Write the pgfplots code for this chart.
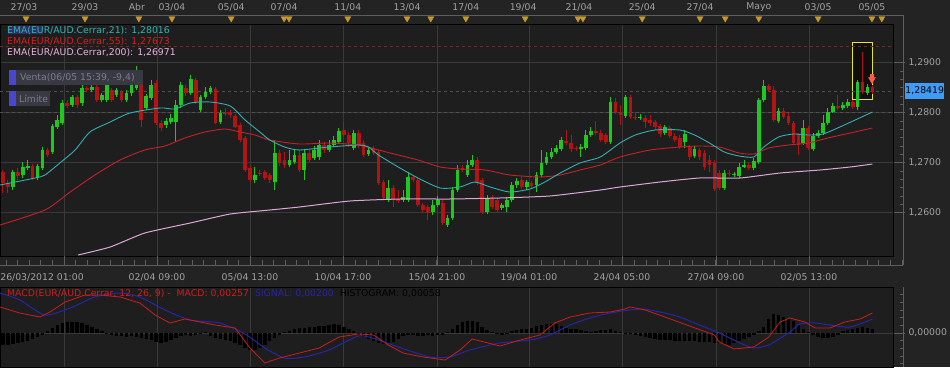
\documentclass[border=0pt]{standalone}
\usepackage{pgfplots}
\pgfplotsset{compat=1.18}
\usepackage{pgfplotstable}
\usepackage{fontspec}
\setmainfont{DejaVu Sans}
\definecolor{pagebg}{HTML}{232323}
\definecolor{plotbg}{HTML}{1E1E1E}
\definecolor{gridc}{HTML}{393939}
\definecolor{rulerc}{HTML}{5E5E5E}
\definecolor{labelc}{HTML}{A2A2A2}
\definecolor{cgreen}{HTML}{1FC71F}
\definecolor{cred}{HTML}{B01414}
\definecolor{ema21c}{HTML}{35AEB2}
\definecolor{ema55c}{HTML}{C42228}
\definecolor{ema200c}{HTML}{DDA7D8}
\definecolor{ema21t}{HTML}{2FB5B5}
\definecolor{ema55t}{HTML}{D81E1E}
\definecolor{ema200t}{HTML}{E8B4E2}
\definecolor{macdred}{HTML}{CC1E1E}
\definecolor{sigblue}{HTML}{2626A8}
\definecolor{markc}{HTML}{C79A2C}
\definecolor{hlblue}{HTML}{3D9CF5}
\definecolor{yellowc}{HTML}{E6E040}
\definecolor{boxbg}{HTML}{0E0E0E}
\definecolor{reddash}{HTML}{6A2E2E}
\definecolor{graydash}{HTML}{505050}
\definecolor{arrowred}{HTML}{FF5A48}
\definecolor{ventabg}{HTML}{393943}
\definecolor{ventablue}{HTML}{4848CC}
\definecolor{ventatext}{HTML}{7C7C8E}
\definecolor{fadeblue}{HTML}{3A3A90}
\newcommand{\f}{\fontsize{9.3}{11}\selectfont}

\pgfplotstableread{
j o h l c
0 1.2681 1.2685 1.2639 1.2659
1 1.2659 1.2665 1.2639 1.2651
2 1.2651 1.2685 1.2645 1.2681
3 1.2681 1.2689 1.2665 1.2673
4 1.2675 1.2701 1.2669 1.2691
5 1.2689 1.2705 1.2685 1.2693
6 1.2693 1.2697 1.2665 1.2669
7 1.2669 1.2697 1.2665 1.2693
8 1.2689 1.2731 1.2685 1.2725
9 1.2725 1.2729 1.2711 1.2715
10 1.2721 1.2777 1.2717 1.2773
11 1.2771 1.2795 1.2767 1.2785
12 1.2779 1.2825 1.2775 1.2819
13 1.2819 1.2825 1.2809 1.2813
14 1.2815 1.2835 1.2811 1.2831
15 1.2831 1.2835 1.2809 1.2815
16 1.2819 1.2855 1.2813 1.2849
17 1.2849 1.2853 1.2841 1.2845
18 1.2845 1.2857 1.2841 1.2851
19 1.2851 1.2855 1.2821 1.2825
20 1.2825 1.2839 1.2821 1.2835
21 1.2825 1.2861 1.2821 1.2855
22 1.2845 1.2849 1.2821 1.2825
23 1.2835 1.2849 1.2831 1.2845
24 1.2841 1.2845 1.2821 1.2825
25 1.2825 1.2845 1.2821 1.2839
26 1.2839 1.2861 1.2833 1.2855
27 1.2849 1.2893 1.2845 1.2861
28 1.2855 1.2861 1.2771 1.2785
29 1.2809 1.2837 1.2805 1.2833
30 1.2829 1.2865 1.2825 1.2855
31 1.2859 1.2865 1.2775 1.2779
32 1.2779 1.2785 1.2763 1.2769
33 1.2775 1.2789 1.2769 1.2783
34 1.2781 1.2797 1.2777 1.2789
35 1.2781 1.2825 1.2741 1.2815
36 1.2815 1.2861 1.2809 1.2855
37 1.2849 1.2855 1.2833 1.2839
38 1.2839 1.2875 1.2835 1.2867
39 1.2865 1.2869 1.2817 1.2821
40 1.2805 1.2835 1.2801 1.2831
41 1.2831 1.2851 1.2827 1.2841
42 1.2841 1.2853 1.2837 1.2849
43 1.2847 1.2851 1.2777 1.2779
44 1.2781 1.2805 1.2777 1.2799
45 1.2799 1.2809 1.2793 1.2797
46 1.2801 1.2805 1.2789 1.2795
47 1.2793 1.2797 1.2769 1.2771
48 1.2775 1.2779 1.2741 1.2745
49 1.2749 1.2753 1.2681 1.2685
50 1.2689 1.2693 1.2661 1.2665
51 1.2665 1.2691 1.2659 1.2675
52 1.2679 1.2685 1.2673 1.2677
53 1.2681 1.2685 1.2665 1.2669
54 1.2675 1.2679 1.2659 1.2665
55 1.2661 1.2745 1.2645 1.2719
56 1.2719 1.2725 1.2693 1.2699
57 1.2705 1.2721 1.2689 1.2695
58 1.2695 1.2725 1.2691 1.2705
59 1.2701 1.2725 1.2697 1.2715
60 1.2715 1.2725 1.2681 1.2685
61 1.2685 1.2725 1.2665 1.2719
62 1.2719 1.2725 1.2701 1.2705
63 1.2709 1.2733 1.2705 1.2725
64 1.2711 1.2745 1.2705 1.2735
65 1.2735 1.2741 1.2719 1.2725
66 1.2725 1.2745 1.2721 1.2735
67 1.2735 1.2753 1.2731 1.2745
68 1.2741 1.2769 1.2737 1.2763
69 1.2765 1.2781 1.2751 1.2755
70 1.2755 1.2761 1.2731 1.2739
71 1.2729 1.2765 1.2725 1.2759
72 1.2759 1.2765 1.2729 1.2735
73 1.2739 1.2745 1.2711 1.2715
74 1.2717 1.2729 1.2713 1.2725
75 1.2729 1.2733 1.2715 1.2719
76 1.2721 1.2725 1.2655 1.2659
77 1.2661 1.2665 1.2625 1.2629
78 1.2625 1.2665 1.2621 1.2649
79 1.2649 1.2655 1.2611 1.2625
80 1.2627 1.2645 1.2619 1.2623
81 1.2625 1.2645 1.2621 1.2631
82 1.2625 1.2681 1.2621 1.2671
83 1.2671 1.2675 1.2661 1.2665
84 1.2665 1.2669 1.2611 1.2615
85 1.2615 1.2619 1.2601 1.2605
86 1.2611 1.2615 1.2585 1.2599
87 1.2601 1.2625 1.2595 1.2615
88 1.2615 1.2633 1.2611 1.2625
89 1.2619 1.2625 1.2575 1.2579
90 1.2575 1.2595 1.2571 1.2589
91 1.2589 1.2651 1.2585 1.2645
92 1.2645 1.2695 1.2641 1.2685
93 1.2689 1.2695 1.2681 1.2685
94 1.2675 1.2705 1.2671 1.2695
95 1.2695 1.2715 1.2691 1.2705
96 1.2705 1.2711 1.2655 1.2659
97 1.2665 1.2669 1.2597 1.2601
98 1.2601 1.2635 1.2597 1.2629
99 1.2629 1.2635 1.2607 1.2611
100 1.2625 1.2629 1.2601 1.2605
101 1.2609 1.2619 1.2605 1.2615
102 1.2611 1.2631 1.2601 1.2625
103 1.2625 1.2661 1.2621 1.2655
104 1.2655 1.2669 1.2649 1.2663
105 1.2665 1.2671 1.2647 1.2651
106 1.2651 1.2665 1.2645 1.2661
107 1.2659 1.2663 1.2649 1.2653
108 1.2655 1.2681 1.2641 1.2675
109 1.2675 1.2725 1.2671 1.2699
110 1.2699 1.2721 1.2695 1.2711
111 1.2711 1.2729 1.2707 1.2721
112 1.2721 1.2735 1.2717 1.2729
113 1.2727 1.2751 1.2723 1.2745
114 1.2743 1.2765 1.2735 1.2739
115 1.2739 1.2755 1.2721 1.2727
116 1.2729 1.2733 1.2723 1.2727
117 1.2727 1.2737 1.2711 1.2731
118 1.2729 1.2765 1.2725 1.2755
119 1.2755 1.2771 1.2751 1.2763
120 1.2763 1.2783 1.2755 1.2759
121 1.2759 1.2765 1.2741 1.2745
122 1.2755 1.2759 1.2737 1.2741
123 1.2741 1.2831 1.2737 1.2821
124 1.2821 1.2829 1.2797 1.2801
125 1.2801 1.2815 1.2775 1.2795
126 1.2793 1.2835 1.2789 1.2831
127 1.2831 1.2835 1.2787 1.2791
128 1.2791 1.2801 1.2785 1.2789
129 1.2789 1.2797 1.2785 1.2791
130 1.2789 1.2795 1.2769 1.2781
131 1.2785 1.2795 1.2773 1.2779
132 1.2781 1.2785 1.2765 1.2771
133 1.2773 1.2777 1.2751 1.2757
134 1.2759 1.2775 1.2755 1.2771
135 1.2769 1.2773 1.2749 1.2753
136 1.2753 1.2759 1.2741 1.2745
137 1.2749 1.2755 1.2727 1.2731
138 1.2741 1.2765 1.2729 1.2757
139 1.2731 1.2735 1.2705 1.2711
140 1.2713 1.2733 1.2709 1.2727
141 1.2725 1.2729 1.2705 1.2711
142 1.2719 1.2725 1.2685 1.2691
143 1.2705 1.2715 1.2681 1.2695
144 1.2699 1.2705 1.2643 1.2647
145 1.2679 1.2685 1.2645 1.2649
146 1.2649 1.2685 1.2645 1.2679
147 1.2679 1.2685 1.2673 1.2677
148 1.2675 1.2681 1.2671 1.2677
149 1.2673 1.2699 1.2669 1.2691
150 1.2691 1.2705 1.2689 1.2695
151 1.2695 1.2699 1.2685 1.2689
152 1.2689 1.2709 1.2685 1.2703
153 1.2701 1.2829 1.2697 1.2825
154 1.2825 1.2865 1.2821 1.2853
155 1.2853 1.2857 1.2841 1.2845
156 1.2845 1.2853 1.2781 1.2785
157 1.2783 1.2809 1.2779 1.2803
158 1.2803 1.2809 1.2787 1.2791
159 1.2793 1.2799 1.2775 1.2779
160 1.2779 1.2783 1.2735 1.2739
161 1.2755 1.2759 1.2715 1.2735
162 1.2739 1.2785 1.2735 1.2769
163 1.2769 1.2773 1.2725 1.2729
164 1.2727 1.2759 1.2723 1.2753
165 1.2753 1.2765 1.2749 1.2759
166 1.2759 1.2795 1.2755 1.2779
167 1.2779 1.2809 1.2775 1.2801
168 1.2801 1.2819 1.2799 1.2813
169 1.2813 1.2835 1.2805 1.2809
170 1.2809 1.2821 1.2805 1.2815
171 1.2813 1.2827 1.2809 1.2821
172 1.2821 1.2825 1.2807 1.2811
173 1.2811 1.2865 1.2805 1.2861
174 1.2861 1.2921 1.2837 1.2841
175 1.2839 1.2857 1.2835 1.2851
176 1.2851 1.2855 1.2837 1.2841
}\candles

\begin{document}
\begin{tikzpicture}
\path[use as bounding box] (0pt,0pt) rectangle (950pt,367pt);
\fill[pagebg] (0pt,0pt) rectangle (950pt,367pt);

% ---------- main price panel ----------
\begin{axis}[
  at={(0pt,111pt)}, anchor=south west,
  scale only axis, width=893pt, height=232pt,
  xmin=-0.607, xmax=180.16, ymin=1.2513, ymax=1.2977,
  axis background/.style={fill=plotbg},
  axis line style={draw=black, line width=0.8pt},
  xtick={12.35,31.17,50.0,68.83,87.85,106.48,125.3,144.33,163.16},
  xticklabels={}, x tick style={draw=none},
  xmajorgrids, ymajorgrids,
  grid style={draw=gridc, line width=0.8pt},
  ytick={1.26,1.27,1.28,1.29},
  ytick pos=right, yticklabel pos=right,
  minor y tick num=5,
  tick align=outside, major tick length=12pt, minor tick length=3pt,
  y tick style={draw=rulerc, line width=0.6pt},
  minor y tick style={xshift=7pt},
  scaled y ticks=false,
  yticklabel style={text=labelc, font=\f, /pgf/number format/.cd, fixed, fixed zerofill, precision=4, use comma, assume math mode=true},
  unbounded coords=discard,
  clip=true,
]
\draw[draw=yellowc, fill=boxbg, line width=0.9pt] (axis cs:171.9,1.2941) rectangle (axis cs:176.0,1.2827);
\addplot[reddash, dash pattern=on 3pt off 3pt, line width=0.7pt] coordinates {(-0.607,1.2933) (180.16,1.2933)};
\addplot[graydash, dash pattern=on 3pt off 3pt, line width=0.7pt] coordinates {(-0.607,1.28419) (180.16,1.28419)};
\addplot[graydash, dash pattern=on 3pt off 3pt, line width=0.7pt] coordinates {(-0.607,1.2801) (180.16,1.2801)};
% wicks
\addplot[draw=none, mark=none, error bars/.cd, y dir=both, y explicit, error mark=none, error bar style={draw=cgreen, line width=1pt}]
  table[x=j, y expr={\thisrow{c}>=\thisrow{o} ? 0.5*(\thisrow{h}+\thisrow{l}) : nan}, y error expr={0.5*(\thisrow{h}-\thisrow{l})}] {\candles};
\addplot[draw=none, mark=none, error bars/.cd, y dir=both, y explicit, error mark=none, error bar style={draw=cred, line width=1pt}]
  table[x=j, y expr={\thisrow{c}<\thisrow{o} ? 0.5*(\thisrow{h}+\thisrow{l}) : nan}, y error expr={0.5*(\thisrow{h}-\thisrow{l})}] {\candles};
% bodies
\addplot[draw=none, mark=none, error bars/.cd, y dir=both, y explicit, error mark=none, error bar style={draw=cgreen, line width=3.7pt}]
  table[x=j, y expr={\thisrow{c}>=\thisrow{o} ? 0.5*(\thisrow{o}+\thisrow{c}) : nan}, y error expr={max(0.5*abs(\thisrow{c}-\thisrow{o}),0.00007)}] {\candles};
\addplot[draw=none, mark=none, error bars/.cd, y dir=both, y explicit, error mark=none, error bar style={draw=cred, line width=3.7pt}]
  table[x=j, y expr={\thisrow{c}<\thisrow{o} ? 0.5*(\thisrow{o}+\thisrow{c}) : nan}, y error expr={max(0.5*abs(\thisrow{c}-\thisrow{o}),0.00007)}] {\candles};
% EMA 200
\addplot[ema200c, line width=1pt, smooth, tension=0.3] coordinates {
(15.2,1.2515)(21.7,1.2531)(28.7,1.2559)(37.9,1.2579)(46,1.2597)(54,1.2605)(60,1.2611)(70.2,1.2623)(80.4,1.2627)(90.5,1.2627)(100.6,1.2629)(110.7,1.2633)(120.9,1.2645)(124.9,1.2651)(133,1.2661)(141,1.2669)(149.2,1.2669)(157.3,1.2679)(165.4,1.2685)(171.5,1.2691)(176,1.2697)};
% EMA 55
\addplot[ema55c, line width=0.9pt, smooth, tension=0.4] coordinates {
(-0.6,1.2575)(8.5,1.2605)(13.6,1.2641)(18.6,1.2675)(23.7,1.2705)(28.7,1.2725)(32.8,1.2733)(36.8,1.2749)(40.9,1.2761)(44.9,1.2767)(48,1.2761)(51,1.2755)(54,1.2745)(60,1.2737)(66,1.2739)(72,1.2735)(76,1.2725)(80,1.2715)(84,1.2705)(88.5,1.2691)(92.5,1.2687)(97.6,1.2685)(102.6,1.2675)(108.7,1.2671)(112.8,1.2675)(116.8,1.2685)(120.9,1.2695)(124.9,1.2711)(131,1.2725)(137,1.2731)(141,1.2733)(145,1.2731)(149,1.2719)(152,1.2717)(155,1.2729)(159,1.2735)(163,1.2739)(167,1.2749)(171.5,1.2759)(176,1.2769)};
% EMA 21
\addplot[ema21c, line width=0.9pt, smooth, tension=0.4] coordinates {
(-0.6,1.2655)(6.5,1.2669)(8.5,1.2675)(11.5,1.2699)(14.6,1.2725)(17.6,1.2761)(21.7,1.2781)(25.7,1.2799)(31.8,1.2809)(34.8,1.2807)(37.9,1.2819)(41.9,1.2821)(46,1.2813)(49,1.2785)(52,1.2761)(54,1.2745)(57,1.2731)(60,1.2725)(66,1.2731)(72,1.2735)(74,1.2731)(76,1.2715)(80,1.2691)(84,1.2669)(88.5,1.2649)(92.5,1.2651)(95.5,1.2661)(98.6,1.2651)(102.6,1.2641)(106.7,1.2647)(109.7,1.2661)(112.8,1.2679)(116.8,1.2699)(120.9,1.2711)(124.9,1.2739)(128,1.2755)(132,1.2765)(137,1.2765)(140,1.2755)(143,1.2739)(146,1.2721)(149,1.2713)(152,1.2711)(154,1.2731)(157,1.2751)(160,1.2757)(163,1.2755)(166,1.2757)(169.4,1.2771)(172.5,1.2785)(176,1.2801)};
% sell arrow
\addplot[only marks, mark=square*, mark size=1.6pt, mark options={fill=arrowred, draw=arrowred}] coordinates {(175.9,1.2874)};
\addplot[only marks, mark=triangle*, mark size=4pt, mark options={rotate=180, fill=arrowred, draw=arrowred}] coordinates {(175.9,1.2866)};
\end{axis}

% ---------- top date strip ----------
\begin{axis}[
  at={(0pt,352pt)}, anchor=south west,
  scale only axis, width=903pt, height=15pt,
  xmin=-0.607, xmax=182.19, ymin=0, ymax=15,
  axis x line*=bottom, axis y line=none,
  axis line style={draw=rulerc, line width=0.7pt},
  xtick=\empty, minor xtick={0,1.27,...,182},
  tick align=outside, minor tick length=3pt,
  minor x tick style={draw=rulerc, line width=0.6pt},
  clip=false,
]
\addplot[only marks, mark=triangle*, mark size=3.5pt, mark options={rotate=180, fill=markc, draw=markc}] coordinates {
(4.66,-3.5)(16.6,-3.5)(27.5,-3.5)(34.2,-3.5)(46.2,-3.5)(56.9,-3.5)(57.9,-3.5)(69.8,-3.5)(81.8,-3.5)(86.6,-3.5)(93.7,-3.5)(105.7,-3.5)(116.4,-3.5)(117.4,-3.5)(129.4,-3.5)(141.1,-3.5)(146.2,-3.5)(153.0,-3.5)(165.0,-3.5)(175.9,-3.5)(177.9,-3.5)};
\addplot[only marks, mark=none, nodes near coords, point meta=explicit symbolic,
  every node near coord/.append style={font=\f, text=labelc, anchor=center, inner sep=0pt}] coordinates {
(4.25,7.5)[27/03] (16.6,7.5)[29/03] (27.1,7.5)[Abr] (34.2,7.5)[03/04] (46.2,7.5)[05/04] (56.9,7.5)[07/04] (69.8,7.5)[11/04] (81.8,7.5)[13/04] (93.7,7.5)[17/04] (105.3,7.5)[19/04] (116.6,7.5)[21/04] (129.4,7.5)[25/04] (141.1,7.5)[27/04] (153.0,7.5)[Mayo] (165.0,7.5)[03/05] (175.9,7.5)[05/05]};
\end{axis}

% ---------- bottom time ruler ----------
\begin{axis}[
  at={(0pt,102pt)}, anchor=south west,
  scale only axis, width=903pt, height=9pt,
  xmin=-0.607, xmax=182.19, ymin=0, ymax=9,
  axis x line*=bottom, axis y line=none,
  axis line style={draw=rulerc, line width=0.7pt},
  xtick={12.35,31.17,50.0,68.83,87.85,106.48,125.3,144.33,163.16}, xticklabels={},
  minor xtick={0.57,2.926,...,182},
  tick align=inside, major tick length=9pt, minor tick length=5pt,
  x tick style={draw=rulerc, line width=0.6pt},
  clip=false,
]
\addplot[only marks, mark=none, nodes near coords, point meta=explicit symbolic,
  every node near coord/.append style={font=\f, text=labelc, anchor=center, inner sep=0pt}] coordinates {
(7.9,-12)[26/03/2012 01:00] (31.17,-12)[02/04 09:00] (50.0,-12)[05/04 13:00] (68.83,-12)[10/04 17:00] (87.85,-12)[15/04 21:00] (106.48,-12)[19/04 01:00] (125.3,-12)[24/04 05:00] (144.33,-12)[27/04 09:00] (163.16,-12)[02/05 13:00]};
\end{axis}

% ---------- MACD panel ----------
\begin{axis}[
  at={(0pt,0pt)}, anchor=south west,
  scale only axis, width=893pt, height=80pt,
  xmin=-0.607, xmax=180.16, ymin=-0.00442, ymax=0.00598,
  axis background/.style={fill=plotbg},
  axis line style={draw=black, line width=0.8pt},
  xtick={12.35,31.17,50.0,68.83,87.85,106.48,125.3,144.33,163.16},
  xticklabels={}, x tick style={draw=none},
  xmajorgrids, ymajorgrids,
  grid style={draw=gridc, line width=0.8pt},
  ytick={0},
  minor ytick={-0.004,-0.003,-0.002,-0.001,0.001,0.002,0.003,0.004,0.005},
  ytick pos=right, yticklabel pos=right,
  tick align=outside, major tick length=12pt, minor tick length=3pt,
  y tick style={draw=rulerc, line width=0.6pt},
  minor y tick style={xshift=7pt},
  scaled y ticks=false,
  yticklabel style={text=labelc, font=\f, /pgf/number format/.cd, fixed, fixed zerofill, precision=5, use comma, assume math mode=true},
  clip=true,
]
\addplot[ycomb, draw=black, line width=3.4pt] coordinates {
(0,-0.00156)(1,-0.00156)(2,-0.00143)(3,-0.0013)(4,-0.00117)(5,-0.00104)(6,-0.00078)(7,-0.00052)(8,-0.00026)(9,0.00026)(10,0.00065)(11,0.00104)(12,0.0013)(13,0.00143)(14,0.00143)(15,0.00143)(16,0.0013)(17,0.00104)(18,0.00078)(19,0.00052)(20,0.00026)(21,-0.00013)(22,-0.00026)(23,-0.00039)(24,-0.00039)(25,-0.00052)(26,-0.00039)(27,-0.00052)(28,-0.00065)(29,-0.00078)(30,-0.00091)(31,-0.00117)(32,-0.0013)(33,-0.00117)(34,-0.00091)(35,-0.00065)(36,-0.00039)(37,-0.00026)(38,-0.00039)(39,-0.00026)(40,-0.00013)(41,0.00007)(42,-0.00039)(43,-0.00065)(44,-0.00078)(45,-0.00091)(46,-0.00104)(47,-0.0013)(48,-0.00156)(49,-0.00195)(50,-0.00221)(51,-0.00221)(52,-0.00195)(53,-0.00156)(54,-0.00104)(55,-0.00065)(56,-0.00026)(57,0.00013)(58,0.00026)(59,0.00052)(60,0.00065)(61,0.00065)(62,0.00078)(63,0.00078)(64,0.00091)(65,0.00091)(66,0.00104)(67,0.00117)(68,0.00104)(69,0.00078)(70,0.00052)(71,0.00026)(72,-0.00026)(73,-0.00052)(74,-0.00078)(75,-0.00104)(76,-0.0013)(77,-0.00143)(78,-0.0013)(79,-0.00117)(80,-0.00078)(81,-0.00039)(82,-0.00026)(83,-0.00026)(84,-0.00039)(85,-0.00039)(86,-0.00026)(87,-0.00039)(88,-0.00026)(89,-0.00026)(90,0.00007)(91,0.00052)(92,0.00104)(93,0.00143)(94,0.00156)(95,0.00156)(96,0.00143)(97,0.00078)(98,0.00039)(99,0.00013)(100,-0.00013)(101,-0.00026)(102,-0.00013)(103,0.00026)(104,0.00039)(105,0.00052)(106,0.00052)(107,0.00065)(108,0.00091)(109,0.00104)(110,0.00117)(111,0.00117)(112,0.00117)(113,0.00091)(114,0.00065)(115,0.00052)(116,0.00052)(117,0.00039)(118,0.00026)(119,0.00013)(120,0.00026)(121,0.00039)(122,0.00039)(123,0.00052)(124,0.00026)(125,0.00013)(126,-0.00013)(127,-0.00013)(128,-0.00026)(129,-0.00039)(130,-0.00052)(131,-0.00065)(132,-0.00078)(133,-0.00091)(134,-0.00091)(135,-0.00091)(136,-0.00104)(137,-0.00104)(138,-0.00104)(139,-0.00104)(140,-0.00104)(141,-0.00117)(142,-0.00117)(143,-0.00117)(144,-0.0013)(145,-0.0013)(146,-0.00143)(147,-0.00156)(148,-0.0013)(149,-0.00104)(150,-0.00078)(151,-0.00052)(152,-0.00026)(153,0.00026)(154,0.00078)(155,0.00182)(156,0.00247)(157,0.00234)(158,0.00208)(159,0.00182)(160,0.00156)(161,0.00104)(162,0.00052)(163,0.00013)(164,-0.00026)(165,-0.00052)(166,-0.00065)(167,-0.00065)(168,-0.00052)(169,-0.00026)(170,0.00026)(171,0.00039)(172,0.00052)(173,0.00065)(174,0.00078)(175,0.00065)(176,0.00052)};
\addplot[sigblue, line width=1pt, smooth, tension=0.4] coordinates {
(-0.6,0.00520)(3.4,0.00429)(8.5,0.00234)(13.6,0.00325)(18.6,0.00468)(23.7,0.00520)(27.7,0.00468)(32.8,0.00299)(37.9,0.00169)(43.9,0.00130)(49,-0.00013)(53,-0.00195)(57,-0.00325)(61,-0.00312)(66,-0.00221)(72,-0.00039)(76,-0.00091)(80,-0.00182)(86.4,-0.00312)(90.5,-0.00312)(94.5,-0.00221)(100.6,-0.00130)(106.7,-0.00091)(110.7,-0.00026)(114.8,0.00104)(118.8,0.00195)(122.9,0.00260)(129,0.00312)(133,0.00273)(137,0.00208)(141,0.00104)(145,0)(149.2,-0.00130)(152,-0.00195)(155,-0.00156)(159.3,0.00013)(161.3,0.00117)(164.4,0.00130)(167.4,0.00104)(171.5,0.00078)(176,0.00182)};
\addplot[macdred, line width=0.8pt] coordinates {
(-0.6,0.00338)(3.4,0.00260)(7.5,0.00208)(9.5,0.00273)(12.6,0.00403)(16.6,0.00494)(19.6,0.00494)(23.7,0.00468)(27.7,0.00390)(30.8,0.00234)(33.8,0.00130)(36.8,0.00182)(39.9,0.00143)(42.9,0.00104)(47,0.00065)(50,-0.00195)(53,-0.00390)(56,-0.00325)(60,-0.00260)(64,-0.00195)(68,-0.00052)(72,-0.00013)(75,-0.00026)(78,-0.00156)(81,-0.00260)(85,-0.00312)(89.5,-0.00351)(92.5,-0.00221)(95,-0.00078)(100.6,-0.00169)(104.7,-0.00091)(108.7,-0.00026)(111.7,0.00130)(114.8,0.00208)(118.8,0.00260)(122.9,0.00273)(125.9,0.00312)(127,0.00338)(130,0.00299)(134,0.00208)(139,0.00091)(144,-0.00026)(145,-0.00117)(148,-0.00208)(152,-0.00182)(155,-0.00052)(157.3,0.00143)(159.3,0.00195)(162.3,0.00143)(164.4,0.00065)(167.4,0.00065)(170.4,0.00143)(173.5,0.00182)(176,0.00260)};
\end{axis}

% ---------- right rulers and price flag ----------
\draw[rulerc, line width=0.8pt] (903.5pt,102pt) -- (903.5pt,352pt);
\draw[rulerc, line width=0.8pt] (903.5pt,0pt) -- (903.5pt,80pt);
\node[fill=hlblue, text=black, font=\f, inner sep=0pt, minimum width=39pt, minimum height=16pt, anchor=west] at (905pt,276pt) {1,28419};

% ---------- legends ----------
\fill[fadeblue, opacity=0.6] (8pt,333pt) rectangle (43pt,341pt);
\node[anchor=west, inner sep=0pt, text=ema21t, font=\f] at (7pt,336pt) {EMA(EUR/AUD.Cerrar,21): 1,28016};
\node[anchor=west, inner sep=0pt, text=ema55t, font=\f] at (7pt,325pt) {EMA(EUR/AUD.Cerrar,55): 1,27673};
\node[anchor=west, inner sep=0pt, text=ema200t, font=\f] at (7pt,314pt) {EMA(EUR/AUD.Cerrar,200): 1,26971};

\fill[ventabg] (9pt,282pt) rectangle (143pt,297pt);
\fill[ventablue] (9pt,282pt) rectangle (16pt,297pt);
\node[anchor=west, inner sep=0pt, text=ventatext, font=\f] at (20pt,289.5pt) {Venta(06/05 15:39, -9,4)};
\fill[ventabg] (9pt,261pt) rectangle (50pt,276pt);
\fill[ventablue] (9pt,261pt) rectangle (16pt,276pt);
\node[anchor=west, inner sep=0pt, text=ventatext, font=\f] at (19pt,268.5pt) {Límite};

\node[anchor=west, inner sep=0pt, font=\f] at (7pt,73pt) {\textcolor{macdred}{MACD(EUR/AUD.Cerrar, 12, 26, 9) -\ \ MACD: 0,00257}\ \ \textcolor{sigblue}{SIGNAL: 0,00200}\ \ \textcolor{black}{HISTOGRAM: 0,00058}};
\end{tikzpicture}
\end{document}
